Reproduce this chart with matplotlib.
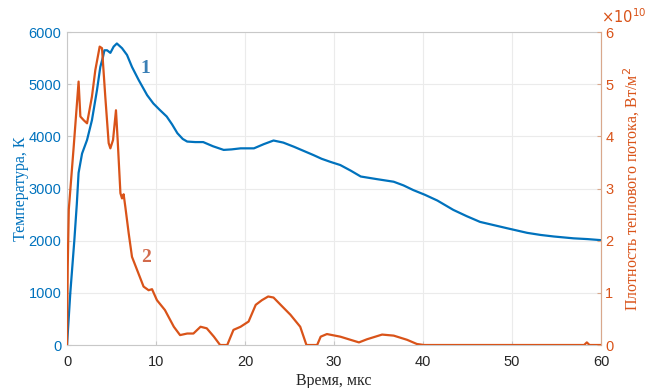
import matplotlib
matplotlib.use("Agg")
import matplotlib.pyplot as plt
import numpy as np

# Temperature, K (curve 1)
t_temp = [0, 0.37, 0.82, 1.1, 1.3, 1.69, 2.25, 2.8, 3.37, 3.74, 4.04, 4.2,
          4.5, 4.87, 5.24, 5.6, 6.18, 6.74, 7.3, 8.05, 9.0, 9.7, 10.4, 11.2,
          11.8, 12.4, 13.0, 13.5, 14.4, 15.3, 16.4, 17.6, 18.5, 19.5, 21.0,
          22.1, 23.2, 24.3, 25.5, 26.6, 27.7, 28.6, 29.6, 30.7, 31.9, 33.0,
          34.8, 36.7, 37.8, 38.9, 40.2, 41.6, 43.4, 44.9, 46.4, 47.9, 49.4,
          51.7, 53.2, 54.7, 56.9, 58.5, 60.0]
temp = [0, 1000, 2000, 2700, 3300, 3670, 3930, 4310, 4890, 5330, 5520, 5650,
        5650, 5600, 5720, 5780, 5690, 5560, 5330, 5080, 4790, 4630, 4510, 4380,
        4230, 4060, 3950, 3900, 3890, 3890, 3810, 3740, 3750, 3770, 3770,
        3850, 3920, 3880, 3800, 3720, 3640, 3570, 3510, 3450, 3340, 3230,
        3180, 3130, 3060, 2970, 2880, 2770, 2590, 2470, 2360, 2300, 2240,
        2150, 2110, 2080, 2045, 2030, 2010]

# Heat flux density, 1e10 W/m^2 (curve 2)
t_flux = [0, 0.08, 0.2, 0.75, 1.3, 1.5, 1.87, 2.25, 2.8, 3.18, 3.67, 3.93,
          4.3, 4.68, 4.87, 5.17, 5.5, 5.69, 6.0, 6.18, 6.36, 6.55, 6.93, 7.3,
          7.87, 8.6, 9.17, 9.55, 10.1, 11.0, 12.0, 12.7, 13.5, 14.2, 15.0,
          15.7, 16.5, 17.2, 18.0, 18.7, 19.5, 20.4, 21.2, 21.9, 22.6, 23.2,
          24.0, 25.1, 26.2, 26.9, 28.1, 28.5, 29.2, 30.7, 32.8, 33.7, 35.4,
          36.7, 38.2, 39.3, 40.1, 58.1, 58.4, 58.7, 60.0]
flux = [0, 1.5, 2.6, 3.8, 5.05, 4.38, 4.31, 4.25, 4.76, 5.27, 5.72, 5.69,
        4.76, 3.87, 3.77, 3.93, 4.5, 3.93, 2.91, 2.81, 2.89, 2.65, 2.14, 1.69,
        1.44, 1.12, 1.05, 1.07, 0.86, 0.67, 0.35, 0.19, 0.22, 0.22, 0.35,
        0.32, 0.16, 0.0, 0.0, 0.29, 0.35, 0.45, 0.77, 0.86, 0.93, 0.91,
        0.77, 0.58, 0.35, 0.0, 0.0, 0.16, 0.21, 0.16, 0.05, 0.11, 0.2,
        0.18, 0.1, 0.02, 0.0, 0.0, 0.05, 0.0, 0.0]

left_ticks = [0, 1000, 2000, 3000, 4000, 5000, 6000]
right_ticks = [0, 1, 2, 3, 4, 5, 6]
x_ticks = [0, 10, 20, 30, 40, 50, 60]

BLUE = "#0072BD"
ORANGE = "#D95319"
SERIF = ["Liberation Serif", "DejaVu Serif"]
SANS = ["Liberation Sans", "DejaVu Sans"]

plt.rcParams["font.family"] = SANS

fig = plt.figure(figsize=(6.45, 3.88), dpi=100)
ax = fig.add_axes([0.1039, 0.1108, 0.828, 0.8067])
ax2 = ax.twinx()

ax.plot(t_temp, temp, color=BLUE, lw=1.6, zorder=3, solid_joinstyle="round")
ax2.plot(t_flux, flux, color=ORANGE, lw=1.6, zorder=3, solid_joinstyle="round")

ax.set_xlim(0, 60)
ax.set_ylim(0, 6000)
ax2.set_ylim(0, 6)
ax.set_xticks(x_ticks)
ax.set_yticks(left_ticks)
ax2.set_yticks(right_ticks)

ax.grid(True, color="#ebebeb", lw=0.8)
ax.set_axisbelow(True)

for a in (ax, ax2):
    for s in a.spines.values():
        s.set_color("#c8c8c8")
        s.set_linewidth(0.8)
ax2.spines["right"].set_color("#d9a88c")
ax2.spines["left"].set_visible(False)
ax2.spines["top"].set_visible(False)
ax2.spines["bottom"].set_visible(False)

ax.tick_params(axis="x", direction="in", length=3, colors="#c8c8c8",
               labelcolor="#262626", labelsize=10.5, pad=7)
ax.tick_params(axis="y", direction="in", length=3, colors="#c8c8c8",
               labelcolor=BLUE, labelsize=10.5, pad=4)
ax2.tick_params(axis="y", direction="in", length=3, colors="#d9a88c",
                labelcolor=ORANGE, labelsize=10.5, pad=3)

ax.set_xlabel("Время, мкс", family=SERIF, fontsize=11.5, color="#262626",
              labelpad=3)
ax.set_ylabel("Температура, К", family=SERIF, fontsize=11.5, color=BLUE,
              labelpad=0)
ax2.set_ylabel("Плотность теплового потока, Вт/м$^2$", family=SERIF,
               fontsize=11.5, color=ORANGE, labelpad=6)

ax2.text(1.0, 1.018, r"$\times10^{10}$", transform=ax2.transAxes,
         color=ORANGE, fontsize=10.5, ha="left", va="bottom",
         family=SANS)

ax.text(8.8, 5300, "1", family=SERIF, fontsize=14, fontweight="bold",
        color="#3a7fb5", ha="center", va="center")
ax.text(8.9, 1670, "2", family=SERIF, fontsize=14, fontweight="bold",
        color="#d26a4c", ha="center", va="center")

fig.savefig("out.png", dpi=100)
